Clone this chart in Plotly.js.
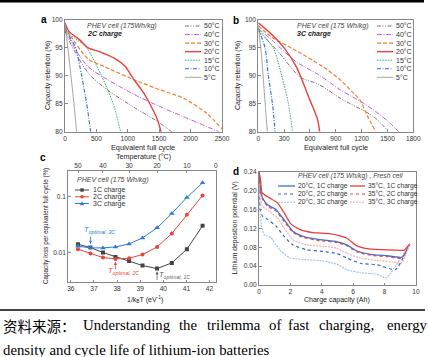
<!DOCTYPE html>
<html><head><meta charset="utf-8">
<script src="https://cdn.plot.ly/plotly-3.0.1.min.js"></script>
<style>html,body{margin:0;padding:0;background:#fff;}#chart{width:428px;height:357px;}</style>
</head><body><div id="chart"></div>
<script>
// ---------- DATA ----------
const tempLabels = ['50°C','40°C','30°C','20°C','15°C','10°C','5°C'];
// Panel a: 2C charge (equivalent full cycle, capacity retention %)
const a50Cyc = [0, 100, 371, 636, 1166, 1450, 1700];
const a50Ret = [98, 95.5, 90.5, 87.8, 83.9, 82, 80];
const a40Cyc = [0, 150, 371, 636, 1166, 1513, 1884, 2450];
const a40Ret = [98.5, 95, 91.6, 89.6, 86.3, 84.5, 82.7, 80];
const a30Cyc = [0, 100, 371, 636, 1166, 1513, 1884, 2256, 2500];
const a30Ret = [99, 97, 93, 91.6, 89, 87.5, 86, 83.3, 80.5];
const a20Cyc = [0, 60, 240, 371, 557, 796, 950, 1100, 1250, 1350, 1460, 1530];
const a20Ret = [99.5, 98, 96.4, 95, 94.3, 93.1, 91.8, 89.3, 87, 85, 82.5, 80];
const a15Cyc = [0, 150, 345, 450, 583, 768, 885];
const a15Ret = [98, 96.8, 95, 93, 90, 85, 80];
const a10Cyc = [0, 100, 170, 265, 345, 408];
const a10Ret = [98.5, 96.5, 95, 90, 85, 80];
const a5Cyc = [0, 50, 95, 143, 185];
const a5Ret = [99.5, 94.5, 90, 85, 80];
// Panel b: 3C charge
const b50Cyc = [0, 100, 249, 485, 700, 951, 1338, 1513];
const b50Ret = [98, 96.5, 94, 89.8, 88.5, 86, 82.7, 80];
const b40Cyc = [0, 150, 442, 700, 951, 1200, 1338, 1532, 1630];
const b40Ret = [98.5, 96.5, 92.5, 90.2, 87.5, 85.3, 83.9, 81.5, 80];
const b30Cyc = [0, 150, 442, 753, 951, 1100, 1180, 1261, 1365];
const b30Ret = [99, 97, 94.5, 91.6, 89.3, 87, 85.7, 83, 80];
const b20Cyc = [0, 150, 300, 442, 598, 682, 713];
const b20Ret = [99.5, 97.5, 95, 91.6, 85.7, 82.5, 80];
const b15Cyc = [0, 100, 175, 273, 350, 397];
const b15Ret = [98.5, 96.5, 95, 90, 85, 80];
const b10Cyc = [0, 78, 117, 164, 195];
const b10Ret = [98.5, 95, 90, 85, 80];
const b5Cyc = [0, 35, 70, 105];
const b5Ret = [99, 94, 87, 80];
// Panel c: capacity loss per EFC vs 1/kBT
const cInvKT = [36.31, 36.85, 37.39, 37.93, 38.52, 39.10, 39.73, 40.37, 41.02, 41.70];
const cLoss1C = [0.0141, 0.0123, 0.0100, 0.00836, 0.00708, 0.00584, 0.00516, 0.00652, 0.01148, 0.0301];
const cLoss2C = [0.0115, 0.0096, 0.00813, 0.00769, 0.0079, 0.0092, 0.0126, 0.0219, 0.0475, 0.1057];
const cLoss3C = [0.0130, 0.01213, 0.0121, 0.0126, 0.0143, 0.0183, 0.0277, 0.0502, 0.0973, 0.178];
const cTopTemps = ['50', '40', '30', '20', '10', '0'];
const cTopPos = [36.31, 37.39, 38.52, 39.73, 41.02, 42.27];
// Panel d: lithium deposition potential vs charge capacity
const d20_1C_q = [0, 0.1, 0.22, 0.54, 1.08, 1.6, 2.15, 2.8, 3.87, 4.95, 5.6, 6.24, 7.1, 8.17, 9.1, 9.6];
const d20_1C_v = [0.24, 0.2, 0.185, 0.170, 0.160, 0.138, 0.114, 0.103, 0.096, 0.092, 0.085, 0.072, 0.065, 0.062, 0.059, 0.087];
const d20_2C_q = [0, 0.08, 0.22, 0.54, 1.08, 1.6, 2.15, 3.0, 4.08, 4.95, 5.6, 6.45, 7.5, 8.7, 9.6];
const d20_2C_v = [0.2, 0.16, 0.146, 0.139, 0.125, 0.103, 0.085, 0.075, 0.071, 0.067, 0.057, 0.046, 0.043, 0.033, 0.087];
const d20_3C_q = [0, 0.08, 0.17, 0.32, 0.75, 1.3, 1.94, 2.8, 4.08, 4.95, 5.6, 6.45, 7.5, 8.1, 9.6];
const d20_3C_v = [0.19, 0.15, 0.124, 0.107, 0.101, 0.075, 0.058, 0.054, 0.051, 0.044, 0.032, 0.026, 0.023, 0.0155, 0.087];
const d35_1C_q = [0, 0.1, 0.2, 0.65, 1.18, 1.6, 2.04, 2.58, 3.44, 4.5, 5.16, 5.6, 6.24, 6.9, 7.74, 8.6, 9.25, 9.6];
const d35_1C_v = [0.24, 0.222, 0.195, 0.185, 0.174, 0.153, 0.129, 0.118, 0.111, 0.109, 0.104, 0.099, 0.083, 0.077, 0.075, 0.074, 0.074, 0.087];
const d35_2C_q = [0, 0.1, 0.22, 0.54, 1.08, 1.6, 2.15, 2.8, 3.87, 4.95, 5.6, 6.24, 7.1, 8.17, 9.1, 9.6];
const d35_2C_v = [0.235, 0.197, 0.182, 0.167, 0.157, 0.135, 0.112, 0.101, 0.094, 0.090, 0.083, 0.070, 0.063, 0.060, 0.057, 0.087];
const d35_3C_q = [0, 0.1, 0.22, 0.65, 1.18, 1.6, 2.15, 3.0, 4.08, 4.95, 5.6, 6.45, 7.5, 8.6, 9.1, 9.6];
const d35_3C_v = [0.215, 0.18, 0.167, 0.156, 0.142, 0.121, 0.096, 0.085, 0.082, 0.078, 0.067, 0.057, 0.052, 0.048, 0.047, 0.087];
const dLabels = ['20°C, 1C charge','20°C, 2C charge','20°C, 3C charge','35°C, 1C charge','35°C, 2C charge','35°C, 3C charge'];
const cLabels = ['1C charge','2C charge','3C charge'];

// ---------- STYLES ----------
const tempColors = ['#8a6a80','#b862e0','#f08030','#e8423c','#36a86a','#2f6fd0','#9a9a9a'];
const tempDashes = ['4px,1.5px,1px,1.5px,1px,1.5px','5px,1.5px,1px,1.5px','4px,2px','solid','1.5px,1.2px','4px,1.5px,1px,1.5px','solid'];
const tempWidths = [1, 1, 1.2, 1.4, 1, 1.1, 0.9];
const cColors = ['#444444','#e8453c','#2f7bd6'];
const cSymbols = ['square','circle','triangle-up'];
const dColors = ['#3d6fcf','#3563c4','#9cc1ea','#e33c3c','#e0443c','#f2aaaa'];
const dDashes = ['solid','dot','2px,1px','solid','dot','2px,1px'];
const dWidths = [1.3, 1.2, 1.1, 1.3, 1.2, 1.1];

const W = 428, H = 357;
const px = v => v / W;
const py = v => 1 - v / H;
const FONT = 'Arial, Liberation Sans, sans-serif';

const traces = [];
const aX = [a50Cyc,a40Cyc,a30Cyc,a20Cyc,a15Cyc,a10Cyc,a5Cyc];
const aY = [a50Ret,a40Ret,a30Ret,a20Ret,a15Ret,a10Ret,a5Ret];
const bX = [b50Cyc,b40Cyc,b30Cyc,b20Cyc,b15Cyc,b10Cyc,b5Cyc];
const bY = [b50Ret,b40Ret,b30Ret,b20Ret,b15Ret,b10Ret,b5Ret];
for (let i = 0; i < 7; i++) {
  traces.push({x:aX[i], y:aY[i], xaxis:'x', yaxis:'y', mode:'lines', name:tempLabels[i], showlegend:false,
    line:{color:tempColors[i], dash:tempDashes[i], width:tempWidths[i], shape:'spline', smoothing:0.8}});
  traces.push({x:bX[i], y:bY[i], xaxis:'x2', yaxis:'y2', mode:'lines', name:tempLabels[i], showlegend:false,
    line:{color:tempColors[i], dash:tempDashes[i], width:tempWidths[i], shape:'spline', smoothing:0.8}});
}
const cY = [cLoss1C, cLoss2C, cLoss3C];
for (let i = 0; i < 3; i++) {
  traces.push({x:cInvKT, y:cY[i], xaxis:'x3', yaxis:'y3', mode:'lines+markers', name:cLabels[i], showlegend:false,
    line:{color:cColors[i], width:1}, marker:{color:cColors[i], symbol:cSymbols[i], size:i===2?5:4}});
}
const dQ = [d20_1C_q,d20_2C_q,d20_3C_q,d35_1C_q,d35_2C_q,d35_3C_q];
const dV = [d20_1C_v,d20_2C_v,d20_3C_v,d35_1C_v,d35_2C_v,d35_3C_v];
for (let i = 0; i < 6; i++) {
  traces.push({x:dQ[i], y:dV[i], xaxis:'x4', yaxis:'y4', mode:'lines', name:dLabels[i], showlegend:false,
    line:{color:dColors[i], dash:dDashes[i], width:dWidths[i], shape:'spline', smoothing:0.5}});
}

const shapes = [];
const annotations = [];
function txt(x, y, text, o) {
  o = o || {};
  annotations.push({xref:'paper', yref:'paper', x:px(x), y:py(y), text:text, showarrow:false,
    xanchor:o.xa || 'center', yanchor:'middle', textangle:o.angle || 0,
    font:{family:o.family || FONT, size:o.size || 7, color:o.color || '#222'}});
}
function legLine(x1, x2, y, color, dash, width) {
  shapes.push({type:'line', xref:'paper', yref:'paper', x0:px(x1), x1:px(x2), y0:py(y), y1:py(y),
    line:{color:color, dash:dash, width:width}});
}

// Panel legends a & b
for (let i = 0; i < 7; i++) {
  const y = 26 + i * 8.55;
  legLine(185, 201, y, tempColors[i], tempDashes[i], tempWidths[i]);
  txt(202, y, tempLabels[i], {xa:'left', size:7, color:'#333'});
  legLine(377, 393, y, tempColors[i], tempDashes[i], tempWidths[i]);
  txt(394, y, tempLabels[i], {xa:'left', size:7, color:'#333'});
}
// Panel c legend
const cRows = [190, 196.8, 203.5];
for (let i = 0; i < 3; i++) {
  const y = cRows[i];
  legLine(75, 89, y, cColors[i], 'solid', 1);
  const r = 1.7, cx = 82;
  if (i === 0) shapes.push({type:'rect', xref:'paper', yref:'paper', x0:px(cx-r), x1:px(cx+r), y0:py(y+r), y1:py(y-r), fillcolor:cColors[i], line:{width:0}});
  if (i === 1) shapes.push({type:'circle', xref:'paper', yref:'paper', x0:px(cx-r), x1:px(cx+r), y0:py(y+r), y1:py(y-r), fillcolor:cColors[i], line:{width:0}});
  if (i === 2) shapes.push({type:'path', xref:'paper', yref:'paper',
    path:`M${px(cx-2.2)},${py(y+1.8)} L${px(cx+2.2)},${py(y+1.8)} L${px(cx)},${py(y-2.2)} Z`, fillcolor:cColors[i], line:{width:0}});
  txt(90.5, y, cLabels[i], {xa:'left', size:7, color:'#333'});
}
// Panel d legends (two columns)
const dRows = [186, 194, 202.3];
for (let i = 0; i < 3; i++) {
  legLine(278, 295, dRows[i], dColors[i], dDashes[i], dWidths[i]);
  txt(296, dRows[i], dLabels[i], {xa:'left', size:6.7, color:'#333'});
  legLine(350, 365, dRows[i], dColors[i+3], dDashes[i+3], dWidths[i+3]);
  txt(366, dRows[i], dLabels[i+3], {xa:'left', size:6.7, color:'#333'});
}

// Panel letters
txt(44, 19, '<b>a</b>', {size:10, color:'#000'});
txt(236, 20, '<b>b</b>', {size:10, color:'#000'});
txt(43, 157, '<b>c</b>', {size:10, color:'#000'});
txt(236, 171, '<b>d</b>', {size:10, color:'#000'});
// In-plot texts
txt(85, 25.7, '<i>PHEV cell (175Wh/kg)</i>', {xa:'left', size:7, color:'#444'});
txt(85, 34.3, '<b><i>2C charge</i></b>', {xa:'left', size:7, color:'#222'});
txt(295, 26, '<i>PHEV cell (175 Wh/kg)</i>', {xa:'left', size:7, color:'#444'});
txt(295, 34.5, '<b><i>3C charge</i></b>', {xa:'left', size:7, color:'#222'});
txt(75, 180, '<i>PHEV cell (175 Wh/kg)</i>', {xa:'left', size:7, color:'#444'});
txt(296, 176, '<i>PHEV cell (175 Wh/kg) , Fresh cell</i>', {xa:'left', size:6.8, color:'#444'});
// Axis titles
txt(143, 147, 'Equivalent full cycle', {size:7.3});
txt(336, 147, 'Equivalent full cycle', {size:7.3});
txt(48, 76, 'Capacity retention (%)', {size:7, angle:-90});
txt(238, 76, 'Capacity retention (%)', {size:7, angle:-90});
txt(143, 156.5, 'Temperature (°C)', {size:7.2});
txt(145, 299.5, '1/k<sub>B</sub>T (eV<sup>-1</sup>)', {size:7});
txt(46, 226, 'Capacity loss per equivalent full cycle (%)', {size:6.3, angle:-90});
txt(337, 300, 'Charge capacity (Ah)', {size:7});
txt(234.5, 228, 'Lithium deposition potential (V)', {size:6.8, angle:-90});
// T_optimal labels
txt(82, 230, '<i>T</i><sub><i>optimal, 3C</i></sub>', {xa:'left', size:7.5, color:'#2f7bd6'});
txt(106, 271, '<i>T</i><sub><i>optimal, 2C</i></sub>', {xa:'left', size:7.5, color:'#e8453c'});
txt(157, 275, '<i>T</i><sub><i>optimal, 1C</i></sub>', {xa:'left', size:7.5, color:'#666'});
function arrow(x, yLog, ay, color) {
  annotations.push({xref:'x3', yref:'y3', x:x, y:yLog, ax:0, ay:ay, text:'', showarrow:true,
    arrowhead:2, arrowsize:0.8, arrowwidth:0.8, arrowcolor:color, standoff:0});
}
arrow(cInvKT[1], Math.log10(cLoss3C[1]) + 0.07, -9, '#2f7bd6');
arrow(cInvKT[3], Math.log10(cLoss2C[3]) - 0.05, 9, '#e8453c');
arrow(cInvKT[6], Math.log10(cLoss1C[6]) - 0.05, 10, '#666');

// Caption lines
shapes.push({type:'line', xref:'paper', yref:'paper', x0:0, x1:px(424), y0:py(1.3), y1:py(1.3), line:{color:'#000', width:2.6}});
shapes.push({type:'line', xref:'paper', yref:'paper', x0:0, x1:px(425), y0:py(310), y1:py(310), line:{color:'#000', width:1.3}});
const SERIF = 'Liberation Serif, Times New Roman, serif';
txt(1, 325, '资料来源：', {xa:'left', size:14.5, family:'Noto Sans CJK SC', color:'#000'});
const capWords = ['Understanding','the','trilemma','of','fast','charging,','energy'];
const capWordX = [81, 177, 205, 267, 286, 317, 385];
for (let i = 0; i < capWords.length; i++) txt(capWordX[i], 325, capWords[i], {xa:'left', size:14.8, family:SERIF, color:'#000'});
txt(0.5, 350, 'density and cycle life of lithium-ion batteries', {xa:'left', size:14.8, family:SERIF, color:'#000'});

const axBase = {showline:true, linecolor:'#888', linewidth:1, mirror:true, ticks:'inside', ticklen:2.5, tickcolor:'#888',
  tickfont:{family:FONT, size:6.6, color:'#333'}, showgrid:false, zeroline:false, fixedrange:true};
const layout = {
  width:W, height:H, margin:{l:0, r:0, t:0, b:0}, paper_bgcolor:'#fff', plot_bgcolor:'#fff', showlegend:false,
  xaxis: Object.assign({}, axBase, {domain:[px(65), px(222)], range:[0, 2500], tick0:0, dtick:500, anchor:'y'}),
  yaxis: Object.assign({}, axBase, {domain:[py(131.7), py(20)], range:[80, 100], tick0:80, dtick:5, anchor:'x'}),
  xaxis2: Object.assign({}, axBase, {domain:[px(258.3), px(413.3)], range:[0, 1800], tick0:0, dtick:300, anchor:'y2'}),
  yaxis2: Object.assign({}, axBase, {domain:[py(131.7), py(20)], range:[80, 100], tick0:80, dtick:5, anchor:'x2'}),
  xaxis3: Object.assign({}, axBase, {domain:[px(68.3), px(216)], range:[35.89, 42.28], tick0:36, dtick:1, anchor:'y3', mirror:true}),
  yaxis3: Object.assign({}, axBase, {domain:[py(282), py(170.7)], type:'log', range:[-2.528, -0.533],
    tickvals:[0.01, 0.1], ticktext:['0.01','0.1'], anchor:'x3'}),
  xaxis5: Object.assign({}, axBase, {overlaying:'x3', side:'top', anchor:'y3', range:[35.89, 42.28],
    tickmode:'array', tickvals:cTopPos, ticktext:cTopTemps, showline:false, mirror:false}),
  xaxis4: Object.assign({}, axBase, {domain:[px(259), px(416)], range:[0, 10], tick0:0, dtick:2, anchor:'y4'}),
  yaxis4: Object.assign({}, axBase, {domain:[py(285), py(171.7)], range:[0, 0.24], tick0:0, dtick:0.04, tickformat:'.2f', anchor:'x4'}),
  shapes: shapes, annotations: annotations
};
// invisible trace to activate the top temperature axis
traces.push({x:[cInvKT[0]], y:[cLoss1C[0]], xaxis:'x5', yaxis:'y3', mode:'markers', marker:{opacity:0}, showlegend:false, hoverinfo:'skip'});
Plotly.newPlot('chart', traces, layout, {displayModeBar:false, staticPlot:true});
</script></body></html>
